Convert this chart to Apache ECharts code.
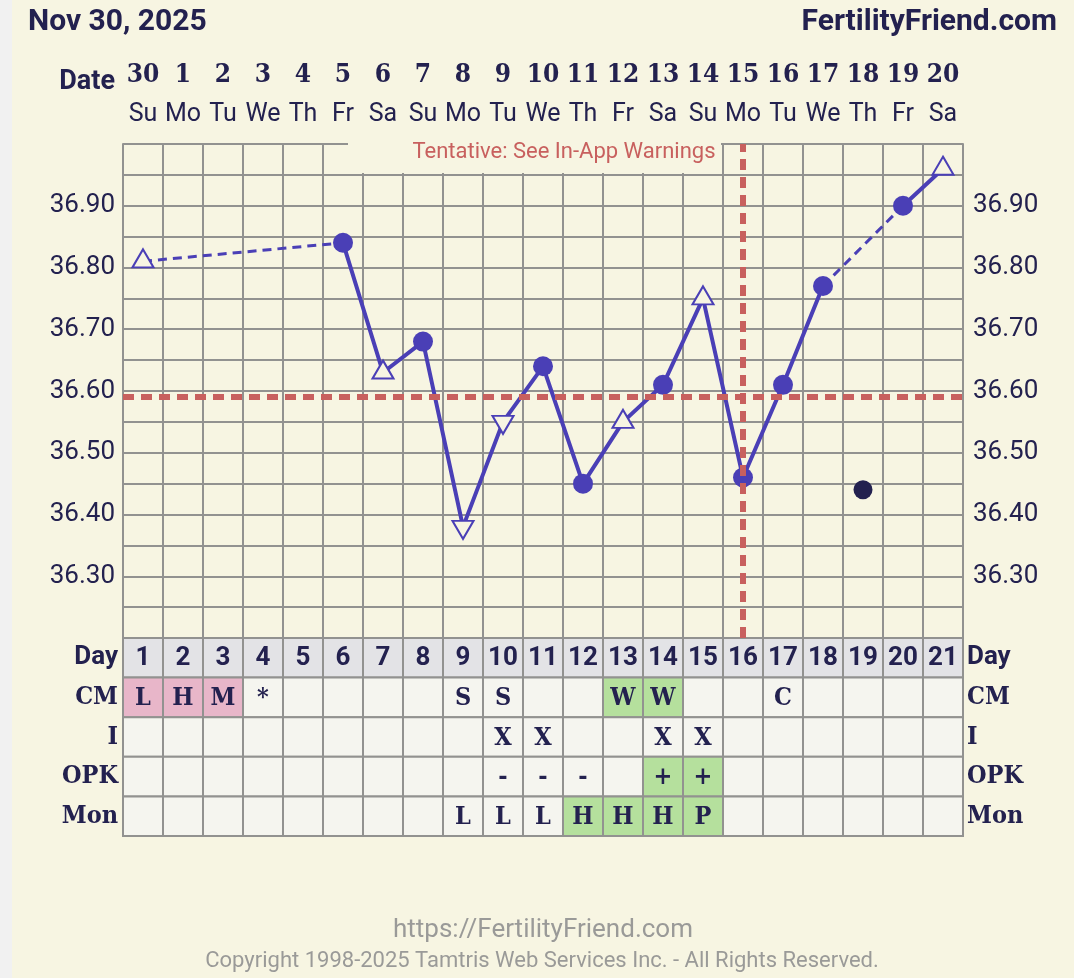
<!DOCTYPE html>
<html><head><meta charset="utf-8">
<script src="https://cdn.jsdelivr.net/npm/echarts@6/dist/echarts.min.js"></script>
<style>html,body{margin:0;padding:0;background:#f7f5e2;}#c{width:1074px;height:978px;}</style>
</head><body><div id="c"></div>
<script>
// ---------- DATA ----------
const dates = ['30','1','2','3','4','5','6','7','8','9','10','11','12','13','14','15','16','17','18','19','20'];
const weekdays = ['Su','Mo','Tu','We','Th','Fr','Sa','Su','Mo','Tu','We','Th','Fr','Sa','Su','Mo','Tu','We','Th','Fr','Sa'];
const cycleDays = ['1','2','3','4','5','6','7','8','9','10','11','12','13','14','15','16','17','18','19','20','21'];
const temps = [36.81,null,null,null,null,36.84,36.63,36.68,36.38,36.55,36.64,36.45,36.55,36.61,36.75,36.46,36.61,36.77,null,36.90,36.96];
const markerKinds = ['open','','','','','dot','open','dot','openDown','openDown','dot','dot','open','dot','open','dot','dot','dot','','dot','open'];
const discarded = [null,null,null,null,null,null,null,null,null,null,null,null,null,null,null,null,null,null,36.44,null,null];
const coverline = 36.59;
const ovulationDay = '16';
const tempTickLabels = ['36.30','36.40','36.50','36.60','36.70','36.80','36.90'];
const rowNames = ['Day','CM','I','OPK','Mon'];
const cm          = ['L','H','M','*','','','','','S','S','','','W','W','','','C','','','',''];
const intercourse = ['','','','','','','','','','X','X','','','X','X','','','','','',''];
const opk         = ['','','','','','','','','','-','-','-','','+','+','','','','','',''];
const monitor     = ['','','','','','','','','L','L','L','H','H','H','P','','','','','',''];

// ---------- STYLE ----------
const NAVY = '#23214f', LINE = '#4a3fb6', GRIDC = '#929290', RED = '#c8605e', CREAM = '#f7f5e2';
const DAY_BG = '#e3e3e6', CELL_BG = '#f5f5ef', PINK = '#e8b6c9', GREEN = '#b5e09d';
const SLAB = '"Roboto Slab","DejaVu Serif Condensed","DejaVu Serif",serif';
const cellHighlight = { CM: {L: PINK, H: PINK, M: PINK, W: GREEN}, OPK: {'+': GREEN}, Mon: {H: GREEN, P: GREEN} };

function markerItem(v, kind) {
  if (kind === 'dot') return {value: v, symbol: 'circle', symbolSize: 20, itemStyle: {color: LINE, borderWidth: 0}};
  const it = {value: v, symbol: 'triangle', symbolSize: [21, 18], symbolOffset: [0, -3],
              itemStyle: {color: CREAM, borderColor: LINE, borderWidth: 2}};
  if (kind === 'openDown') { it.symbolRotate = 180; it.symbolOffset = [0, 3]; }
  return it;
}
const solidData = temps.map((t, i) => t == null ? '-' : markerItem(t, markerKinds[i]));
const gapSeries = [];
let prev = -1;
temps.forEach((t, i) => {
  if (t == null) return;
  if (prev >= 0 && i - prev > 1) {
    const d = temps.map(() => '-'); d[prev] = temps[prev]; d[i] = t; gapSeries.push(d);
  }
  prev = i;
});
const tableRows = {Day: cycleDays, CM: cm, I: intercourse, OPK: opk, Mon: monitor};
const tableData = [], tableText = [];
rowNames.forEach((r, ri) => tableRows[r].forEach((t, ci) => { tableData.push([ci, ri]); tableText.push(t); }));

function tempLabel(v) {
  const s = (Math.round(v * 100) / 100).toFixed(2);
  return tempTickLabels.includes(s) ? s : '';
}
const rowLabel = v => v === 'Day' ? `{s|${v}}` : `{b|${v}}`;
const rowRich = {
  s: {fontFamily: 'Roboto', fontWeight: 'bold', fontSize: 26, color: NAVY},
  b: {fontFamily: SLAB, fontWeight: 'bold', fontSize: 25, color: NAVY}
};

const chart = echarts.init(document.getElementById('c'), null, {renderer: 'canvas'});
const option = {
  animation: false,
  backgroundColor: CREAM,
  grid: [
    {left: 123, top: 144, width: 840, height: 494, outerBoundsMode: 'none'},
    {left: 123, top: 638, width: 840, height: 198, outerBoundsMode: 'none'}
  ],
  xAxis: [
    {type: 'category', gridIndex: 0, position: 'top', data: dates, boundaryGap: true,
     axisLine: {show: false}, axisTick: {show: false},
     splitLine: {show: true, interval: 0, lineStyle: {color: GRIDC, width: 2}},
     axisLabel: {interval: 0, margin: 11,
       formatter: (v, i) => `{d|${v}}\n{w|${weekdays[i]}}`,
       rich: {
         d: {fontFamily: SLAB, fontWeight: 'bold', fontSize: 26, lineHeight: 44, color: NAVY},
         w: {fontFamily: 'Roboto', fontSize: 25, lineHeight: 36, color: NAVY}
       }}},
    {type: 'category', gridIndex: 1, data: cycleDays, show: false}
  ],
  yAxis: [
    {type: 'value', gridIndex: 0, min: 36.2, max: 37.0, interval: 0.05, position: 'left',
     axisLine: {show: true, lineStyle: {color: GRIDC, width: 2}}, axisTick: {show: false},
     splitLine: {show: true, lineStyle: {color: GRIDC, width: 2}},
     axisLabel: {formatter: tempLabel, color: NAVY, fontFamily: 'Roboto', fontSize: 26, margin: 8, showMinLabel: true, showMaxLabel: true}},
    {type: 'value', gridIndex: 0, min: 36.2, max: 37.0, interval: 0.05, position: 'right',
     axisLine: {show: true, lineStyle: {color: GRIDC, width: 2}}, axisTick: {show: false},
     splitLine: {show: false},
     axisLabel: {formatter: tempLabel, color: NAVY, fontFamily: 'Roboto', fontSize: 26, margin: 10, showMinLabel: true, showMaxLabel: true}},
    {type: 'category', gridIndex: 1, data: rowNames, inverse: true, position: 'left',
     axisLine: {show: false}, axisTick: {show: false}, splitLine: {show: false},
     axisLabel: {formatter: rowLabel, rich: rowRich, margin: 5, interval: 0}},
    {type: 'category', gridIndex: 1, data: rowNames, inverse: true, position: 'right',
     axisLine: {show: false}, axisTick: {show: false}, splitLine: {show: false},
     axisLabel: {formatter: rowLabel, rich: rowRich, margin: 4, interval: 0}}
  ],
  series: [
    {type: 'line', xAxisIndex: 0, yAxisIndex: 0, data: [], z: 1, silent: true,
     markLine: {silent: true, symbol: ['none', 'none'], label: {show: false},
       lineStyle: {color: RED, width: 6, type: [11, 7]},
       data: [{yAxis: coverline}]}},
    ...gapSeries.map(d => ({type: 'line', xAxisIndex: 0, yAxisIndex: 0, data: d, connectNulls: true,
       symbol: 'none', z: 3, silent: true, lineStyle: {color: LINE, width: 3, type: [9, 6]}})),
    {type: 'line', xAxisIndex: 0, yAxisIndex: 0, data: solidData, z: 4, silent: true,
     connectNulls: false, showAllSymbol: true, lineStyle: {color: LINE, width: 4}, itemStyle: {color: LINE}},
    {type: 'scatter', xAxisIndex: 0, yAxisIndex: 0, data: discarded.map(v => v == null ? '-' : v),
     symbol: 'circle', symbolSize: 19, itemStyle: {color: NAVY, opacity: 1}, z: 4, silent: true},
    {type: 'line', xAxisIndex: 0, yAxisIndex: 0, data: [], z: 6, silent: true,
     markLine: {silent: true, symbol: ['none', 'none'], label: {show: false},
       lineStyle: {color: RED, width: 6, type: [11, 7]},
       data: [{xAxis: dates[cycleDays.indexOf(ovulationDay)]}]}},
    {type: 'custom', xAxisIndex: 1, yAxisIndex: 2, data: tableData, encode: {x: 0, y: 1}, silent: true,
     renderItem: (params, api) => {
       const cell = tableData[params.dataIndex];
       const text = tableText[params.dataIndex];
       const c = api.coord([api.value(0), api.value(1)]);
       const s = api.size([1, 1]);
       const row = rowNames[cell[1]];
       const fill = row === 'Day' ? DAY_BG : ((cellHighlight[row] || {})[text] || CELL_BG);
       return {type: 'group', children: [
         {type: 'rect', shape: {x: c[0] - s[0] / 2, y: c[1] - s[1] / 2, width: s[0], height: s[1]},
          style: {fill: fill, stroke: GRIDC, lineWidth: 2}},
         {type: 'text', x: c[0], y: c[1] + 1, style: {text: text, fill: NAVY,
          font: row === 'Day' ? 'bold 26px Roboto' : `bold 25px ${SLAB}`, align: 'center', verticalAlign: 'middle'}}
       ]};
     }}
  ],
  graphic: [
    {type: 'rect', left: 0, top: 0, shape: {width: 12, height: 978}, style: {fill: '#f1f1f1'}, z: 100},
    {type: 'text', x: 28, y: 22, style: {text: 'Nov 30, 2025', font: 'bold 30px Roboto', fill: NAVY, align: 'left', verticalAlign: 'middle'}, z: 100},
    {type: 'text', x: 1057, y: 22, style: {text: 'FertilityFriend.com', font: 'bold 30px Roboto', fill: NAVY, align: 'right', verticalAlign: 'middle'}, z: 100},
    {type: 'text', x: 115, y: 82, style: {text: 'Date', font: 'bold 27px Roboto', fill: NAVY, align: 'right', verticalAlign: 'middle'}, z: 100},
    {type: 'rect', x: 348, y: 141, shape: {width: 373, height: 32}, style: {fill: CREAM}, z: 100},
    {type: 'text', x: 564, y: 152, style: {text: 'Tentative: See In-App Warnings', font: '22px Roboto', fill: RED, align: 'center', verticalAlign: 'middle'}, z: 101},
    {type: 'text', x: 543, y: 930, style: {text: 'https://FertilityFriend.com', font: '26px Roboto', fill: '#9a9a98', align: 'center', verticalAlign: 'middle'}, z: 100},
    {type: 'text', x: 542, y: 961, style: {text: 'Copyright 1998-2025 Tamtris Web Services Inc. - All Rights Reserved.', font: '22px Roboto', fill: '#9a9a98', align: 'center', verticalAlign: 'middle'}, z: 100}
  ]
};
chart.setOption(option);
</script>
</body></html>
